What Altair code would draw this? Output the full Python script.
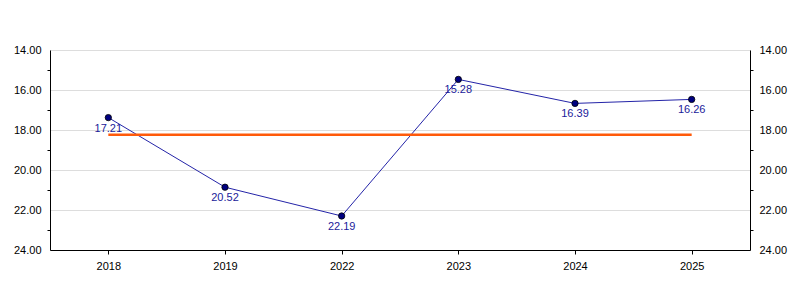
import altair as alt
import pandas as pd

years = ["2018", "2019", "2022", "2023", "2024", "2025"]
plotted = [17.38, 20.86, 22.30, 15.47, 16.67, 16.47]
labels = ["17.21", "20.52", "22.19", "15.28", "16.39", "16.26"]
reference_value = 18.24

df = pd.DataFrame({"year": years, "value": plotted, "label": labels})
ref_df = pd.DataFrame({"year": [years[0], years[-1]], "value": [reference_value] * 2})

tick_values = list(range(14, 25))
font = "Liberation Sans"

x = alt.X("year:N", sort=years, title=None,
          scale=alt.Scale(type="point", padding=0.5),
          axis=alt.Axis(labelAngle=0, labelFont=font, labelFontSize=11, labelColor="black",
                        tickColor="black", domainColor="black", tickSize=4, labelPadding=6,
                        grid=False))
xn = alt.X("year:N", sort=years, title=None)

def yaxis(orient):
    return alt.Axis(orient=orient, values=tick_values, title=None,
                    labelExpr="datum.value % 2 == 0 ? format(datum.value, '.2f') : ''",
                    labelFont=font, labelFontSize=11, labelColor="black",
                    tickSize=3, tickColor="black",
                    tickOpacity={"condition": {"test": "datum.value % 2 == 0", "value": 0}, "value": 1},
                    domainColor="black", labelPadding=6,
                    grid=orient == "left",
                    gridColor="#dddddd",
                    gridOpacity={"condition": {"test": "datum.value % 2 == 0", "value": 1}, "value": 0},
                    labelFlush=False)

yscale = alt.Scale(domain=[14, 24], reverse=True, nice=False, zero=False)

def yn():
    return alt.Y("value:Q", scale=yscale, title=None, axis=None)

line = alt.Chart(df).mark_line(color="#2424a8", strokeWidth=1).encode(
    x=x, y=alt.Y("value:Q", scale=yscale, title=None, axis=yaxis("left")))

ref = alt.Chart(ref_df).mark_line(color="#ff5a0a", strokeWidth=2.5).encode(x=xn, y=yn())

pts = alt.Chart(df).mark_point(filled=True, size=40, color="#000080", stroke="black",
                               strokeWidth=0.8, opacity=1).encode(x=xn, y=yn())

txt = alt.Chart(df).mark_text(baseline="top", dy=5, font=font, fontSize=11, color="#1a1a9a").encode(
    x=xn, y=yn(), text="label:N")

right = alt.Chart(df).mark_point(opacity=0).encode(
    x=xn, y=alt.Y("value:Q", scale=yscale, title=None, axis=yaxis("right")))

chart = alt.layer(line, ref, pts, txt, right).resolve_axis(y="independent").properties(
    width=700, height=200,
    autosize=alt.AutoSizeParams(type="none"),
    padding={"left": 50, "top": 50, "right": 50, "bottom": 50},
).configure_view(stroke="black", strokeWidth=1).configure(background="white")

chart.save("out.html", embed_options={"renderer": "svg", "actions": False})
